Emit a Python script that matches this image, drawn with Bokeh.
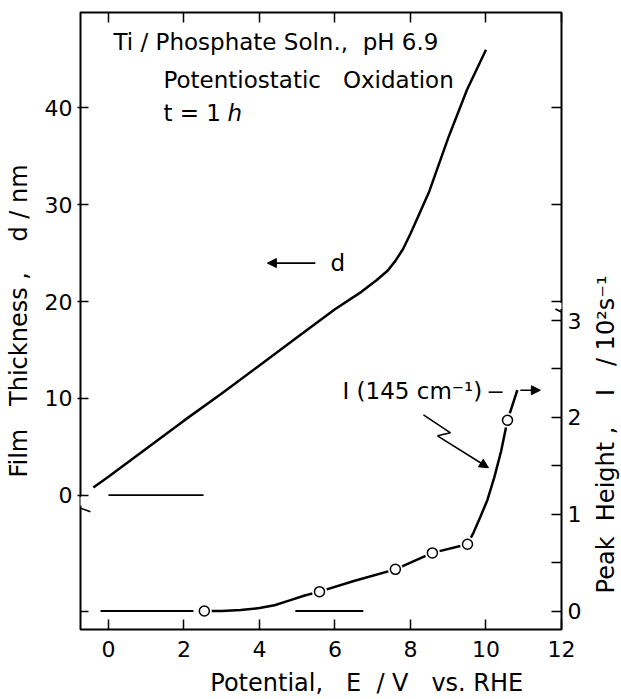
import math
from bokeh.plotting import figure
from bokeh.layouts import row
from bokeh.models import (Range1d, LinearAxis, FixedTicker, Label, Arrow, NormalHead,
                          PolyAnnotation)
from bokeh.embed import file_html
from bokeh.resources import INLINE

# ---------------- data ----------------
# film thickness d (nm) vs potential E (V vs RHE)
E_d = [-0.4, 0.0, 1.0, 2.0, 3.0, 4.0, 5.0, 6.0, 6.7, 7.1, 7.4, 7.6, 7.8, 8.0, 8.5, 9.0, 9.5, 10.0]
d_nm = [0.8, 1.9, 4.8, 7.7, 10.5, 13.4, 16.3, 19.2, 21.0, 22.2, 23.2, 24.2, 25.4, 27.0, 31.4, 36.9, 41.9, 46.0]

# peak height I(145 cm-1) (10^2 s^-1) : curve and measured points
E_I_curve = [2.54, 3.0, 3.5, 4.0, 4.4, 4.8, 5.2, 5.59, 6.5, 7.6, 8.58, 9.51, 9.67, 9.85,
             10.04, 10.22, 10.4, 10.57, 10.83]
I_curve = [0.0, 0.0, 0.01, 0.03, 0.06, 0.11, 0.16, 0.20, 0.31, 0.43, 0.60, 0.69, 0.81, 0.97,
           1.15, 1.38, 1.65, 1.97, 2.28]
E_I_pts = [2.54, 5.59, 7.6, 8.58, 9.51, 10.57]
I_pts = [0.0, 0.20, 0.43, 0.60, 0.69, 1.97]

# zero base lines
d_base_E0 = [0.0]
d_base_E1 = [2.52]
I_base_E0 = [-0.21, 4.95]
I_base_E1 = [2.25, 6.75]

# ticks
x_ticks = [0, 2, 4, 6, 8, 10, 12]
d_ticks = [0, 10, 20, 30, 40]
I_ticks = [0, 1, 2, 3]
I_minor = [0.5, 1.5, 2.5]
d_ticks_right = [20, 30, 40]

# axis ranges
X_LO, X_HI = -0.74, 12.0
D_LO, D_HI = -13.87, 49.85
D_AT_I0 = -11.96          # d-scale value where I = 0
I_LO = (D_LO - D_AT_I0) / 10.0
I_HI = (D_HI - D_AT_I0) / 10.0

FONT = "DejaVu Sans"
NB = "\u00a0"

MAIN_W, SIDE_W, H = 590, 31, 699

p = figure(width=MAIN_W, height=H, x_range=Range1d(X_LO, X_HI), y_range=Range1d(D_LO, D_HI),
           output_backend="svg", toolbar_location=None,
           min_border_left=80, min_border_right=29, min_border_top=12, min_border_bottom=69,
           background_fill_color="white", border_fill_color="white",
           outline_line_color="black", outline_line_width=2)
p.extra_y_ranges = {"I": Range1d(I_LO, I_HI)}
p.grid.visible = False


def style_axis(ax, tick_in, tick_out, standoff, fsize="22px"):
    ax.axis_line_color = None
    ax.major_tick_in = tick_in
    ax.major_tick_out = tick_out
    ax.minor_tick_in = tick_in
    ax.minor_tick_out = 0
    ax.major_tick_line_width = 1.5
    ax.minor_tick_line_width = 1.5
    ax.major_label_standoff = standoff
    ax.major_label_text_font = FONT
    ax.major_label_text_font_size = fsize
    ax.major_label_text_color = "black"
    ax.axis_label_text_font = FONT
    ax.axis_label_text_font_size = "24px"
    ax.axis_label_text_font_style = "normal"
    ax.axis_label_text_color = "black"


# bottom
xa = p.xaxis[0]
xa.ticker = FixedTicker(ticks=x_ticks)
style_axis(xa, 10, 0, 11)
xa.minor_tick_line_color = None
xa.axis_label = NB * 12 + "Potential," + NB * 3 + "E" + NB * 2 + "/" + NB + "V" + NB * 3 + "vs." + NB + "RHE"
xa.axis_label_standoff = 9

# top (ticks only)
top = LinearAxis(ticker=FixedTicker(ticks=x_ticks))
style_axis(top, 10, 0, 0, "1px")
top.major_label_overrides = {t: "" for t in x_ticks}
top.minor_tick_line_color = None
p.add_layout(top, "above")

# left (film thickness)
ya = p.yaxis[0]
ya.ticker = FixedTicker(ticks=d_ticks, minor_ticks=[D_AT_I0])
style_axis(ya, 8, 3, 5)
ya.axis_label = "Film" + NB * 3 + "Thickness" + NB + "," + NB * 4 + "d" + NB + "/" + NB + "nm"
ya.axis_label_standoff = 9

# right (peak height) - ticks and numbers
right_minor = I_minor + [(d - D_AT_I0) / 10.0 for d in d_ticks_right]
ra = LinearAxis(y_range_name="I", ticker=FixedTicker(ticks=I_ticks, minor_ticks=right_minor))
style_axis(ra, 10, 0, 6)
p.add_layout(ra, "right")

# ---------------- curves ----------------
p.line(E_d, d_nm, line_width=2.5, line_color="black")
p.line(E_I_curve, I_curve, y_range_name="I", line_width=2.5, line_color="black")
p.scatter(E_I_pts, I_pts, y_range_name="I", size=15, fill_color="white", line_color=None)
p.scatter(E_I_pts, I_pts, y_range_name="I", size=10, fill_color="white",
          line_color="black", line_width=1.5)

p.segment(d_base_E0, [0.0], d_base_E1, [0.0], line_width=1.8, line_color="black")
p.segment(I_base_E0, [0.0, 0.0], I_base_E1, [0.0, 0.0], y_range_name="I",
          line_width=1.8, line_color="black")

# ---------------- axis breaks ----------------
p.add_layout(PolyAnnotation(xs=[-0.82, -0.66, -0.66, -0.82], ys=[-0.15, -0.15, -1.08, -1.08],
                            fill_color="white", fill_alpha=1.0, line_color=None))
p.add_layout(PolyAnnotation(xs=[11.92, 12.08, 12.08, 11.92], ys=[19.85, 19.85, 19.23, 19.23],
                            fill_color="white", fill_alpha=1.0, line_color=None))
p.add_layout(Arrow(end=None, x_start=-0.848, y_start=-1.19, x_end=-0.477, y_end=-1.70,
                   line_width=1.6, line_color="black"))
p.add_layout(Arrow(end=None, x_start=11.84, y_start=19.23, x_end=12.16, y_end=18.61,
                   line_width=1.6, line_color="black"))

# ---------------- arrows ----------------
p.add_layout(Arrow(end=NormalHead(size=9, fill_color="black", line_color="black"),
                   x_start=5.48, y_start=23.97, x_end=4.21, y_end=23.97,
                   line_width=1.6, line_color="black"))
p.add_layout(Arrow(end=None, x_start=10.07, y_start=2.26, x_end=10.44, y_end=2.26,
                   y_range_name="I", line_width=1.6, line_color="black"))
p.add_layout(Arrow(end=NormalHead(size=9, fill_color="black", line_color="black"),
                   x_start=10.91, y_start=2.28, x_end=11.44, y_end=2.28,
                   y_range_name="I", line_width=1.6, line_color="black"))
p.line([8.344, 9.06, 8.715], [2.026, 1.84, 1.809], y_range_name="I",
       line_width=1.6, line_color="black")
p.add_layout(Arrow(end=NormalHead(size=9, fill_color="black", line_color="black"),
                   x_start=8.715, y_start=1.809, x_end=10.066, y_end=1.479,
                   y_range_name="I", line_width=1.6, line_color="black"))


# ---------------- texts ----------------
def lab(x, y, text, size="23px", align="left", style="normal"):
    p.add_layout(Label(x=x, y=y, text=text, text_font=FONT, text_font_size=size,
                       text_align=align, text_baseline="middle",
                       text_font_style=style, text_color="black"))


lab(0.132, 46.80, "Ti / Phosphate Soln.," + NB * 2 + "pH 6.9")
lab(1.457, 42.84, "Potentiostatic" + NB * 3 + "Oxidation")
lab(1.457, 39.43, "t = 1")
lab(3.152, 39.43, "h", style="italic")
lab(5.881, 24.02, "d")
lab(6.199, 10.77, "I (145 cm\u207b\u00b9)")

# ---------------- right-hand title strip ----------------
side = figure(width=SIDE_W, height=H, x_range=Range1d(0, SIDE_W), y_range=Range1d(0, H),
              output_backend="svg", toolbar_location=None,
              min_border_left=0, min_border_right=0, min_border_top=0, min_border_bottom=0,
              x_axis_type=None, y_axis_type=None, outline_line_color=None,
              background_fill_color="white", border_fill_color="white")
side.grid.visible = False
side.add_layout(Label(x=15, y=221,
                      text=("Peak" + NB * 2 + "Height" + NB + "," + NB * 4 + "I" + NB * 3 + "/"
                            + NB + "10\u00b2s\u207b\u00b9"),
                      text_font=FONT, text_font_size="24px", text_align="center",
                      text_baseline="middle", angle=math.pi / 2, text_color="black"))

layout = row(p, side, spacing=0)
open("out.html", "w").write(file_html(layout, INLINE))
